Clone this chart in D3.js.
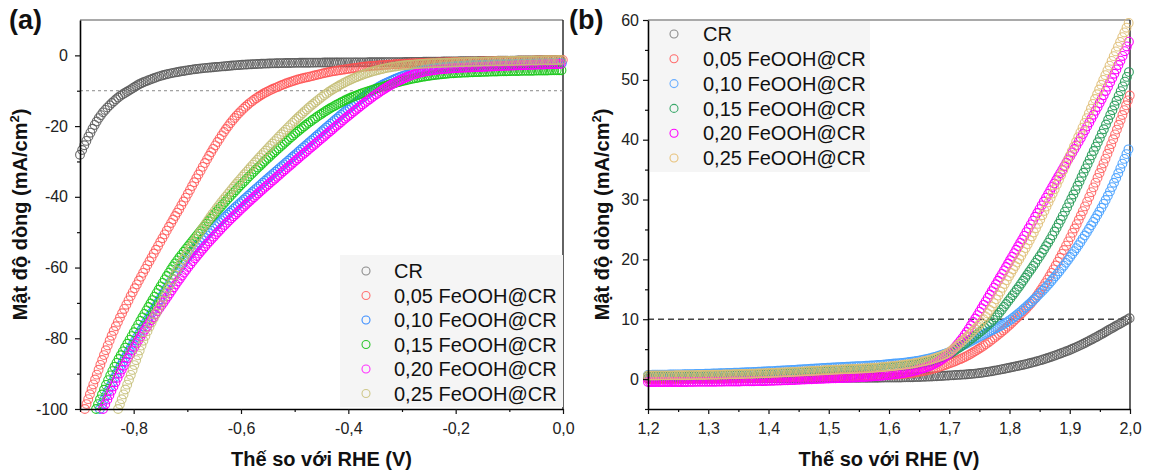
<!DOCTYPE html>
<html>
<head>
<meta charset="utf-8">
<script src="https://cdn.jsdelivr.net/npm/d3@7"></script>
<style>
  body { margin: 0; background: #fff; }
  svg text { font-family: "Liberation Sans", Arial, sans-serif; }
</style>
</head>
<body>
<svg id="fig" width="1152" height="475"></svg>
<script>
// Sample names shared by both panels
const seriesNames = ["CR", "0,05 FeOOH@CR", "0,10 FeOOH@CR", "0,15 FeOOH@CR", "0,20 FeOOH@CR", "0,25 FeOOH@CR"];

// (a) HER polarisation: [potential V vs RHE, current density mA/cm²]
const herCR  = [[-0.9,-28.1],[-0.881,-22.0],[-0.863,-17.3],[-0.844,-14.0],[-0.826,-11.6],[-0.807,-9.8],[-0.79,-8.2],[-0.77,-6.9],[-0.745,-5.6],[-0.714,-4.6],[-0.68,-3.8],[-0.639,-3.2],[-0.6,-2.7],[-0.565,-2.4],[-0.49,-2.1],[-0.4,-2.0],[-0.3,-1.9],[-0.2,-1.7],[-0.1,-1.5],[0,-1.3]];
const herF05 = [[-0.891,-100],[-0.868,-90],[-0.843,-80],[-0.812,-70],[-0.777,-60],[-0.74,-50],[-0.704,-40.5],[-0.676,-32.8],[-0.648,-25.5],[-0.62,-19.2],[-0.59,-14.3],[-0.56,-11.0],[-0.53,-8.8],[-0.5,-7.1],[-0.466,-5.8],[-0.435,-4.7],[-0.403,-3.9],[-0.37,-3.2],[-0.34,-2.8],[-0.3,-2.4],[-0.2,-1.9],[-0.1,-1.6],[0,-1.3]];
const herF10 = [[-0.863,-100],[-0.832,-90],[-0.795,-80],[-0.755,-70],[-0.714,-60],[-0.659,-50],[-0.62,-44.3],[-0.58,-38.8],[-0.55,-34.8],[-0.528,-31.9],[-0.5,-28.2],[-0.466,-23.7],[-0.435,-19.6],[-0.403,-15.5],[-0.37,-11.6],[-0.341,-8.7],[-0.31,-6.5],[-0.28,-4.9],[-0.25,-3.9],[-0.217,-3.3],[-0.15,-2.7],[-0.08,-2.4],[0,-2.2]];
const herF15 = [[-0.87,-100],[-0.842,-90],[-0.806,-80],[-0.768,-70],[-0.728,-60],[-0.68,-50.5],[-0.63,-41.5],[-0.58,-33.5],[-0.53,-26.3],[-0.49,-21],[-0.466,-18.2],[-0.435,-15.1],[-0.403,-12.5],[-0.37,-10.5],[-0.341,-9.1],[-0.31,-7.7],[-0.28,-6.6],[-0.25,-5.8],[-0.217,-5.2],[-0.155,-4.7],[-0.08,-4.4],[0,-4.2]];
const herF20 = [[-0.857,-100],[-0.826,-90],[-0.789,-80],[-0.745,-70],[-0.699,-60],[-0.643,-50],[-0.6,-43.5],[-0.57,-39.3],[-0.528,-33.7],[-0.5,-30],[-0.466,-25.6],[-0.435,-21.6],[-0.403,-17.5],[-0.37,-13.5],[-0.341,-10.3],[-0.31,-7.5],[-0.28,-5.5],[-0.25,-4.4],[-0.217,-3.8],[-0.155,-3.3],[-0.08,-2.8],[0,-2.4]];
const herF25 = [[-0.829,-100],[-0.805,-90.2],[-0.78,-80],[-0.75,-70.5],[-0.718,-60.5],[-0.69,-53.3],[-0.66,-46.3],[-0.626,-39.5],[-0.59,-33],[-0.55,-26.3],[-0.528,-22.8],[-0.5,-18.5],[-0.466,-13.8],[-0.435,-10.2],[-0.403,-7.4],[-0.37,-5.3],[-0.341,-4.0],[-0.31,-3.1],[-0.28,-2.6],[-0.2,-2.0],[-0.1,-1.6],[0,-1.3]];

// (b) OER polarisation: [potential V vs RHE, current density mA/cm²]
const oerCR  = [[1.2,0.1],[1.3,0.1],[1.4,0.15],[1.5,0.2],[1.6,0.25],[1.65,0.35],[1.7,0.6],[1.75,1.0],[1.8,1.9],[1.85,3.1],[1.88,4.1],[1.91,5.3],[1.94,6.8],[1.97,8.5],[2.0,10.2]];
const oerF05 = [[1.2,0.0],[1.3,0.1],[1.4,0.25],[1.5,0.45],[1.6,0.7],[1.65,1.2],[1.68,1.9],[1.7,2.6],[1.73,3.9],[1.75,5.1],[1.78,7.3],[1.81,10],[1.84,13.2],[1.87,17.8],[1.9,23.5],[1.93,29.9],[1.96,37],[2.0,47.5]];
const oerF10 = [[1.2,0.7],[1.3,0.9],[1.4,1.3],[1.5,1.9],[1.6,2.5],[1.65,3.1],[1.68,3.8],[1.7,4.5],[1.73,6.0],[1.76,7.6],[1.8,9.8],[1.83,12.3],[1.86,15.3],[1.9,20.3],[1.93,24.8],[1.96,30],[2.0,39]];
const oerF15 = [[1.2,0.5],[1.3,0.6],[1.4,0.9],[1.5,1.4],[1.6,2.0],[1.65,2.6],[1.68,3.3],[1.7,4.2],[1.72,5.5],[1.74,7.0],[1.774,10],[1.8,13.3],[1.83,17.5],[1.87,23.8],[1.902,30],[1.93,36],[1.96,42.5],[2.0,51.7]];
const oerF20 = [[1.2,-0.5],[1.3,-0.45],[1.4,-0.3],[1.5,0.1],[1.55,0.3],[1.6,0.7],[1.65,1.6],[1.68,2.8],[1.7,4.3],[1.72,6.6],[1.74,9.6],[1.77,14.6],[1.8,19.7],[1.83,24.9],[1.86,30.2],[1.89,35.4],[1.92,40.6],[1.95,46.2],[1.98,52.3],[2.0,56.8]];
const oerF25 = [[1.2,0.6],[1.3,0.7],[1.4,1.0],[1.5,1.5],[1.6,2.1],[1.65,2.8],[1.68,3.6],[1.7,4.5],[1.72,6.2],[1.757,10],[1.8,17.3],[1.83,22.5],[1.867,30],[1.9,37.3],[1.93,44],[1.96,51],[2.0,60]];

// Tick values
const herXMajor = [-0.8, -0.6, -0.4, -0.2, 0];
const herXMinor = [-0.9, -0.7, -0.5, -0.3, -0.1];
const herYMajor = [-100, -80, -60, -40, -20, 0];
const herYMinor = [-90, -70, -50, -30, -10];
const oerXMajor = [1.2, 1.3, 1.4, 1.5, 1.6, 1.7, 1.8, 1.9, 2.0];
const oerXMinor = [1.25, 1.35, 1.45, 1.55, 1.65, 1.75, 1.85, 1.95];
const oerYMajor = [0, 10, 20, 30, 40, 50, 60];
const oerYMinor = [-5, 5, 15, 25, 35, 45, 55];

const svg = d3.select("#fig");
const FONT = "'Liberation Sans', Arial, sans-serif";
const commaFmt = v => v.toFixed(1).replace(".", ",");

function drawPanel(cfg) {
  const g = svg.append("g");
  const x = d3.scaleLinear().domain(cfg.xDomain).range([cfg.left, cfg.right]);
  const y = d3.scaleLinear().domain(cfg.yDomain).range([cfg.bottom, cfg.top]);

  // top and right frame
  g.append("line").attr("x1", cfg.left).attr("x2", cfg.right).attr("y1", cfg.top).attr("y2", cfg.top)
    .attr("stroke", "#555").attr("stroke-width", 1.2);
  g.append("line").attr("x1", cfg.right).attr("x2", cfg.right).attr("y1", cfg.top).attr("y2", cfg.bottom)
    .attr("stroke", "#222").attr("stroke-width", 1.4);

  // 10 mA/cm² reference line
  g.append("line")
    .attr("x1", x(cfg.xDomain[0])).attr("x2", x(cfg.xDomain[1]))
    .attr("y1", y(cfg.refLine)).attr("y2", y(cfg.refLine))
    .attr("stroke", cfg.refStyle.color).attr("stroke-width", cfg.refStyle.width)
    .attr("stroke-dasharray", cfg.refStyle.dash);

  // curves drawn as open-circle markers along each polarisation line
  const line = d3.line().x(d => x(d[0])).y(d => y(d[1])).curve(d3.curveMonotoneX);
  cfg.series.forEach((pts, i) => {
    const path = g.append("path").attr("d", line(pts)).attr("fill", "none").attr("stroke", "none");
    const node = path.node();
    const L = node.getTotalLength();
    const marks = [];
    let last = null;
    for (let s = 0; s <= L; s += 0.4) {
      const p = node.getPointAtLength(s);
      if (!last || Math.abs(p.x - last.x) >= 2 || Math.hypot(p.x - last.x, p.y - last.y) >= 5) {
        marks.push({ x: p.x, y: p.y });
        last = p;
      }
    }
    g.append("g").selectAll("circle").data(marks).join("circle")
      .attr("cx", d => d.x).attr("cy", d => d.y).attr("r", 4.4)
      .attr("fill", "none").attr("stroke", cfg.colors[i])
      .attr("stroke-width", 1.1).attr("stroke-opacity", cfg.opacity[i]);
  });

  // legend
  const lg = g.append("g");
  lg.append("rect").attr("x", cfg.legend.x).attr("y", cfg.legend.y)
    .attr("width", cfg.legend.w).attr("height", cfg.legend.h).attr("fill", "#f5f5f5");
  seriesNames.forEach((name, i) => {
    const cy = cfg.legend.y + cfg.legend.first + i * cfg.legend.step;
    lg.append("circle").attr("cx", cfg.legend.x + cfg.legend.mx).attr("cy", cy).attr("r", 4)
      .attr("fill", "none").attr("stroke", cfg.legendColors[i]).attr("stroke-width", 1.1);
    lg.append("text").attr("x", cfg.legend.x + cfg.legend.tx).attr("y", cy).attr("dy", "0.36em")
      .attr("font-size", 20).attr("fill", "#111").text(name);
  });

  // axes
  const styleAxis = a => a.attr("font-family", FONT).attr("font-size", 16)
    .call(s => s.selectAll("text").attr("fill", "#222"))
    .call(s => s.selectAll("line").attr("stroke", "#111").attr("stroke-width", 1.2));

  g.append("g").attr("transform", `translate(0,${cfg.bottom})`)
    .call(d3.axisBottom(x).tickValues(cfg.xMinor).tickSize(3).tickSizeOuter(0).tickFormat(""))
    .call(styleAxis).call(a => a.select(".domain").remove());
  g.append("g").attr("transform", `translate(${cfg.left},0)`)
    .call(d3.axisLeft(y).tickValues(cfg.yMinor).tickSize(3).tickSizeOuter(0).tickFormat(""))
    .call(styleAxis).call(a => a.select(".domain").remove());

  g.append("g").attr("transform", `translate(0,${cfg.bottom})`)
    .call(d3.axisBottom(x).tickValues(cfg.xMajor).tickSize(5).tickSizeOuter(0).tickPadding(9).tickFormat(commaFmt))
    .call(styleAxis)
    .call(a => a.select(".domain").attr("stroke", "#000").attr("stroke-width", 1.6));
  g.append("g").attr("transform", `translate(${cfg.left},0)`)
    .call(d3.axisLeft(y).tickValues(cfg.yMajor).tickSize(5).tickSizeOuter(0).tickPadding(cfg.yPad).tickFormat(d3.format("d")))
    .call(styleAxis)
    .call(a => a.selectAll("text").text(d => String(d)))
    .call(a => a.select(".domain").attr("stroke", "#000").attr("stroke-width", 1.6));

  // axis titles
  g.append("text").attr("x", (cfg.left + cfg.right) / 2).attr("y", 466)
    .attr("text-anchor", "middle").attr("font-size", 20).attr("font-weight", "bold").attr("fill", "#111")
    .text("Thế so với RHE (V)");
  const yt = g.append("text")
    .attr("transform", `translate(${cfg.yTitleX},${(cfg.top + cfg.bottom) / 2}) rotate(-90)`)
    .attr("text-anchor", "middle").attr("font-size", 20).attr("font-weight", "bold").attr("fill", "#111");
  yt.append("tspan").text("Mật độ dòng (mA/cm");
  yt.append("tspan").attr("dy", -8).attr("font-size", 13).text("2");
  yt.append("tspan").attr("dy", 8).text(")");

  // panel tag
  g.append("text").attr("x", cfg.tagX).attr("y", 29).attr("font-size", 27).attr("font-weight", "bold")
    .attr("fill", "#111").text(cfg.tag);
}

drawPanel({
  tag: "(a)", tagX: 9,
  left: 80, right: 563, top: 20, bottom: 409,
  xDomain: [-0.9, 0], yDomain: [-100, 10],
  xMajor: herXMajor, xMinor: herXMinor, yMajor: herYMajor, yMinor: herYMinor, yPad: 7,
  yTitleX: 27,
  refLine: -10, refStyle: { color: "#8a8a8a", width: 1, dash: "3,3" },
  series: [herCR, herF05, herF10, herF15, herF20, herF25],
  colors: ["#5c5c5c", "#ff4f4f", "#3a8dff", "#1ec81e", "#ff00ff", "#c4bd74"],
  opacity: [0.9, 0.8, 0.95, 0.95, 1, 0.85],
  legendColors: ["#8c8c8c", "#ff7070", "#3a8dff", "#2cc52c", "#ff33ff", "#cfc88a"],
  legend: { x: 340, y: 255, w: 223, h: 152, first: 16, step: 24.5, mx: 26, tx: 54 }
});

drawPanel({
  tag: "(b)", tagX: 569,
  left: 648, right: 1130, top: 20, bottom: 409,
  xDomain: [1.2, 2.0], yDomain: [-5, 60],
  xMajor: oerXMajor, xMinor: oerXMinor, yMajor: oerYMajor, yMinor: oerYMinor, yPad: 4,
  yTitleX: 609,
  refLine: 10, refStyle: { color: "#444", width: 1.3, dash: "6,4" },
  series: [oerCR, oerF05, oerF10, oerF15, oerF20, oerF25],
  colors: ["#5c5c5c", "#ff5c5c", "#4da3ff", "#2a9d5c", "#ff00ff", "#e0bf78"],
  opacity: [0.9, 0.85, 0.95, 0.95, 1, 0.9],
  legendColors: ["#8c8c8c", "#ff6b6b", "#6aaeff", "#3aa86a", "#ff00ff", "#e8c27a"],
  legend: { x: 650, y: 21, w: 220, h: 151, first: 13, step: 24.8, mx: 24, tx: 53 }
});
</script>
</body>
</html>
